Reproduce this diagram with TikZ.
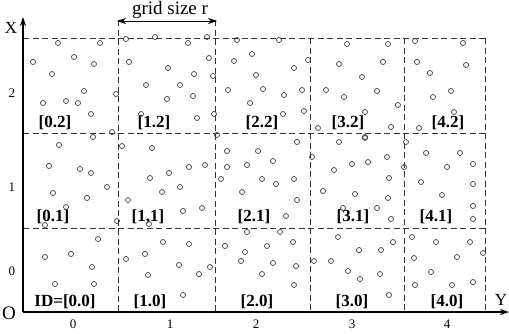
\documentclass[tikz,border=0pt]{standalone}
\usepackage{fontspec}
\setmainfont{Liberation Serif}
\usetikzlibrary{arrows.meta}
\begin{document}
\begin{tikzpicture}[x=1pt,y=-1pt,
  grid/.style={draw=black!80,dashed,dash pattern=on 6pt off 3.5pt,line width=0.9pt},
  axis/.style={draw=black,line width=1.2pt,-{Stealth[length=9pt,width=6pt]}},
  pt/.style={draw=black!75,line width=0.7pt},
  cell/.style={font=\fontsize{17}{17}\selectfont\bfseries,inner sep=0pt},
  tick/.style={font=\fontsize{13}{13}\selectfont,inner sep=0pt},
  axlab/.style={font=\fontsize{17}{17}\selectfont,inner sep=0pt}]
\useasboundingbox (0,0) rectangle (509,333);
% grid
\coordinate (o) at (23,312);
\coordinate (ytop) at (23,17);
\coordinate (xend) at (509,312);
\foreach \yy in {38,133,228} \draw[grid] (23,\yy) -- (485,\yy);
\draw[grid] (118,20) -- (118,312);
\draw[grid] (215,20) -- (215,312);
\draw[grid] (310,38) -- (310,312);
\draw[grid] (404,38) -- (404,312);
\draw[grid] (485,38) -- (485,312);
% axes
\draw[axis] (o) -- (ytop);
\draw[axis] (o) -- (xend);
\node[axlab] (X) at (11,28) {X};
\node[axlab,font=\fontsize{19}{19}\selectfont] (O) at (9,313) {O};
\node[axlab] (Y) at (501,300) {Y};
% grid size arrow
\coordinate (ga) at (117,21);
\coordinate (gb) at (217,21);
\draw[line width=1pt,{Stealth[length=9pt,width=6pt]}-{Stealth[length=9pt,width=6pt]}] (ga) -- (gb);
\node[axlab,font=\fontsize{19}{19}\selectfont] (gs) at (170,10) {grid size r};
% ticks
\foreach \xx/\t in {73/0,170/1,256/2,352/3,447/4} \node[tick] (tx\t) at (\xx,324) {\t};
\foreach \yy/\t in {93/2,187/1,271/0} \node[tick] (ty\t) at (12,\yy) {\t};
% cell labels
\node[cell] (c02) at (55,123) {[0.2]};
\node[cell] (c12) at (154,123) {[1.2]};
\node[cell] (c22) at (262,123) {[2.2]};
\node[cell] (c32) at (348,123) {[3.2]};
\node[cell] (c42) at (448,123) {[4.2]};
\node[cell] (c01) at (53,217) {[0.1]};
\node[cell] (c11) at (148,217) {[1,1]};
\node[cell] (c21) at (254,217) {[2.1]};
\node[cell] (c31) at (353,217) {[3.1]};
\node[cell] (c41) at (436,217) {[4.1]};
\node[cell] (c00) at (65,302) {ID=[0.0]};
\node[cell] (c10) at (150,302) {[1.0]};
\node[cell] (c20) at (257,302) {[2.0]};
\node[cell] (c30) at (352,302) {[3.0]};
\node[cell] (c40) at (447,302) {[4.0]};
% points
\foreach \p in {
(58,43),(100,43),(126,39),(155,37),(188,43),(207,37),(237,40),(33,62),(74,57),(94,64),(129,62),(168,68),(209,58),(234,61),(252,54),(52,74),(194,74),(213,76),(256,75),(146,85),(180,85),(228,90),(84,91),(116,94),(43,103),(66,101),(78,103),(167,99),(193,96),(250,103),(91,114),(141,114),(197,118),(214,114),(112,132),(93,137),(217,135),
(279,40),(347,44),(388,44),(415,41),(463,43),(308,60),(294,68),(339,64),(383,62),(417,62),(466,65),(362,77),(430,73),(263,89),(326,90),(377,91),(451,91),(284,95),(302,90),(344,97),(433,97),(304,111),(283,114),(365,112),(398,105),(454,112),(318,128),(391,127),(419,128),(365,137),
(59,145),(122,146),(152,148),(227,151),(258,151),(49,166),(80,169),(91,173),(169,173),(189,167),(205,165),(227,167),(247,165),(150,178),(221,179),(107,187),(180,187),(162,192),(53,193),(242,192),(87,198),(128,200),(66,207),(183,211),(202,208),(117,221),(149,224),(45,225),(247,232),(98,239),
(297,142),(339,142),(365,138),(406,142),(426,153),(460,153),(312,157),(273,161),(352,164),(368,162),(387,157),(404,167),(447,167),(473,164),(334,170),(262,179),(276,184),(294,179),(389,178),(421,182),(473,184),(323,191),(355,194),(442,195),(297,200),(388,198),(343,208),(377,208),(473,206),(286,216),(391,219),(473,219),(280,232),(338,237),
(163,242),(189,244),(225,246),(45,257),(71,254),(145,254),(126,259),(245,252),(92,267),(179,265),(241,261),(210,267),(148,275),(199,274),(55,284),(94,284),(183,295),
(267,246),(293,242),(359,250),(381,250),(393,242),(412,237),(436,242),(470,242),(483,253),(273,263),(296,266),(314,261),(331,261),(348,271),(360,279),(380,274),(414,258),(457,257),(431,272),(262,274),(294,285),(389,295),(415,285),(452,285),(473,282)}
  \draw[pt] \p circle (2.5);
\end{tikzpicture}
\end{document}
